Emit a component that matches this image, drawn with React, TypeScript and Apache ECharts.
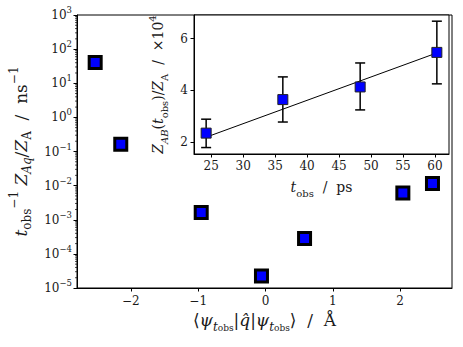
import React, { useEffect, useRef } from "react";
import * as echarts from "echarts";

// Main panel data
const mainX = [-2.53, -2.15, -0.955, -0.06, 0.58, 2.04, 2.48];
const mainY = [40.6, 0.164, 1.63e-3, 2.25e-5, 2.82e-4, 6.1e-3, 1.15e-2];
const mainXTicks = [-2, -1, 0, 1, 2];
const mainXMin = -2.8;
const mainXMax = 2.77;
const mainYMin = 1e-5;
const mainYMax = 1e3;

// Inset data
const insetT = [24.2, 36.2, 48.3, 60.3];
const insetZ = [2.34, 3.64, 4.13, 5.47];
const insetLow = [1.78, 2.77, 3.24, 4.25];
const insetHigh = [2.88, 4.52, 5.06, 6.68];
const fitT = [24.4, 60.2];
const fitZ = [2.2, 5.44];
const insetXTicks = [25, 30, 35, 40, 45, 50, 55, 60];
const insetYTicks = [2, 4, 6];

const SERIF = "DejaVu Serif";
const TXT = "#1a1a1a";

function minorTickValues(): number[] {
  const out: number[] = [];
  for (let e = -5; e < 3; e++) {
    for (let m = 2; m <= 9; m++) out.push(m * Math.pow(10, e));
  }
  return out;
}

function mathRich(base: number) {
  const sub = Math.round(base * 0.68);
  return {
    r: { fontFamily: SERIF, fontSize: base, color: TXT, lineHeight: base + 8 },
    i: { fontFamily: SERIF, fontSize: base, fontStyle: "italic", color: TXT, lineHeight: base + 8 },
    sub: { fontFamily: SERIF, fontSize: sub, color: TXT, verticalAlign: "bottom", lineHeight: sub + 2 },
    subi: { fontFamily: SERIF, fontSize: sub, fontStyle: "italic", color: TXT, verticalAlign: "bottom", lineHeight: sub + 2 },
    sub2: { fontFamily: SERIF, fontSize: Math.round(base * 0.5), color: TXT, verticalAlign: "bottom", lineHeight: Math.round(base * 0.5) },
    sup: { fontFamily: SERIF, fontSize: sub, color: TXT, verticalAlign: "top", lineHeight: sub + 1 },
  };
}

const powRich = {
  b: { fontFamily: SERIF, fontSize: 12, color: TXT, lineHeight: 19 },
  s: { fontFamily: SERIF, fontSize: 8.5, color: TXT, verticalAlign: "top", lineHeight: 9 },
};

function fmtNum(v: number) {
  return v < 0 ? "\u2212" + String(-v) : String(v);
}

export default function App() {
  const ref = useRef<HTMLDivElement>(null);
  useEffect(() => {
    if (!ref.current) return;
    const chart = echarts.init(ref.current, null, { renderer: "svg" });
    const minors = minorTickValues();
    const option: any = {
      animation: false,
      backgroundColor: "#fff",
      textStyle: { fontFamily: SERIF },
      grid: [
        { left: 72, top: 15, right: 11, bottom: 59, show: true, borderColor: "#000", borderWidth: 1, backgroundColor: "#fff" },
        { left: 194, top: 15, width: 255, height: 139, show: true, borderColor: "#000", borderWidth: 1, backgroundColor: "#fff", z: 5 },
      ],
      xAxis: [
        {
          type: "value",
          gridIndex: 0,
          min: mainXMin,
          max: mainXMax,
          splitLine: { show: false },
          axisLine: { show: true, onZero: false, lineStyle: { color: "#000", width: 1 } },
          axisTick: { show: true, inside: false, length: 3.5, customValues: mainXTicks, lineStyle: { color: "#000" } },
          axisLabel: { customValues: mainXTicks, formatter: (v: number) => fmtNum(v), fontFamily: SERIF, fontSize: 12, color: TXT, margin: 7 },
          name: "{r|\u27E8}{i|\u03C8}{subi|t}{sub2|obs}{r||}{i|q\u0302}{r||}{i|\u03C8}{subi|t}{sub2|obs}{r|\u27E9  /  \u00C5}",
          nameLocation: "middle",
          nameGap: 12,
          nameTextStyle: { fontFamily: SERIF, rich: mathRich(17), verticalAlign: "top" },
        },
        {
          type: "value",
          gridIndex: 1,
          min: 22.3,
          max: 62.2,
          splitLine: { show: false },
          axisLine: { show: true, onZero: false, lineStyle: { color: "#000", width: 1 } },
          axisTick: { show: true, inside: false, length: 3.5, customValues: insetXTicks, lineStyle: { color: "#000" } },
          axisLabel: { customValues: insetXTicks, fontFamily: SERIF, fontSize: 12, color: TXT, margin: 6 },
          name: "{i|t}{sub|obs}{r|  /  ps}",
          nameLocation: "middle",
          nameGap: 22,
          nameTextStyle: { fontFamily: SERIF, rich: mathRich(14), verticalAlign: "top" },
          z: 6,
        },
      ],
      yAxis: [
        {
          type: "log",
          gridIndex: 0,
          logBase: 10,
          min: mainYMin,
          max: mainYMax,
          interval: 1,
          splitNumber: 8,
          splitLine: { show: false },
          axisLine: { show: true, onZero: false, lineStyle: { color: "#000", width: 1 } },
          axisTick: { show: true, inside: false, length: 3.5, lineStyle: { color: "#000" } },
          axisLabel: {
            formatter: (v: number) => {
              const e = Math.round(Math.log10(v));
              return "{b|10}{s|" + fmtNum(e) + "}";
            },
            fontFamily: SERIF,
            rich: powRich,
            margin: 5,
          },
          name: "{i|t}{sub|obs}{sup|\u22121}{i| Z}{subi|Aq}{r|/}{i|Z}{sub|A}{r|  /  ns}{sup|\u22121}",
          nameLocation: "middle",
          nameRotate: 90,
          nameGap: 44,
          nameTextStyle: { fontFamily: SERIF, rich: mathRich(17) },
        },
        {
          type: "value",
          gridIndex: 1,
          min: 1.53,
          max: 6.92,
          splitLine: { show: false },
          axisLine: { show: true, onZero: false, lineStyle: { color: "#000", width: 1 } },
          axisTick: { show: true, inside: false, length: 3.5, customValues: insetYTicks, lineStyle: { color: "#000" } },
          axisLabel: { customValues: insetYTicks, fontFamily: SERIF, fontSize: 12, color: TXT, margin: 6 },
          name: "{i|Z}{subi|AB}{r|(}{i|t}{sub|obs}{r|)/}{i|Z}{sub|A}{r|  /  \u00D710}{sup|4}",
          nameLocation: "middle",
          nameRotate: 90,
          nameGap: 20,
          nameTextStyle: { fontFamily: SERIF, rich: mathRich(14) },
          z: 6,
        },
      ],
      series: [
        {
          type: "custom",
          xAxisIndex: 0,
          yAxisIndex: 0,
          silent: true,
          clip: false,
          data: minors.map((v) => [mainXMin, v]),
          renderItem: (params: any, api: any) => {
            const p = api.coord([api.value(0), api.value(1)]);
            return {
              type: "line",
              shape: { x1: p[0] - 2, y1: p[1], x2: p[0], y2: p[1] },
              style: { stroke: "#000", lineWidth: 0.7 },
            };
          },
        },
        {
          type: "scatter",
          xAxisIndex: 0,
          yAxisIndex: 0,
          symbol: "rect",
          symbolSize: 12,
          data: mainX.map((x, i) => [x, mainY[i]]),
          itemStyle: { color: "#0000ff", borderColor: "#000", borderWidth: 3, opacity: 1 },
          z: 3,
        },
        {
          type: "custom",
          xAxisIndex: 1,
          yAxisIndex: 1,
          silent: true,
          data: insetT.map((t, i) => [t, insetLow[i], insetHigh[i]]),
          renderItem: (params: any, api: any) => {
            const lo = api.coord([api.value(0), api.value(1)]);
            const hi = api.coord([api.value(0), api.value(2)]);
            const w = 5;
            const st = { stroke: "#000", lineWidth: 1.5 };
            return {
              type: "group",
              children: [
                { type: "line", shape: { x1: lo[0], y1: lo[1], x2: hi[0], y2: hi[1] }, style: st },
                { type: "line", shape: { x1: lo[0] - w, y1: lo[1], x2: lo[0] + w, y2: lo[1] }, style: st },
                { type: "line", shape: { x1: hi[0] - w, y1: hi[1], x2: hi[0] + w, y2: hi[1] }, style: st },
              ],
            };
          },
          z: 7,
        },
        {
          type: "line",
          xAxisIndex: 1,
          yAxisIndex: 1,
          data: fitT.map((t, i) => [t, fitZ[i]]),
          showSymbol: false,
          lineStyle: { color: "#000", width: 1 },
          z: 8,
        },
        {
          type: "scatter",
          xAxisIndex: 1,
          yAxisIndex: 1,
          symbol: "rect",
          symbolSize: 10,
          data: insetT.map((t, i) => [t, insetZ[i]]),
          itemStyle: { color: "#0000ff", borderColor: "#222", borderWidth: 1, opacity: 1 },
          z: 9,
        },
      ],
    };
    chart.setOption(option);
    return () => chart.dispose();
  }, []);
  return <div ref={ref} style={{ position: "absolute", left: 0, top: 0, width: 463, height: 347 }} />;
}
